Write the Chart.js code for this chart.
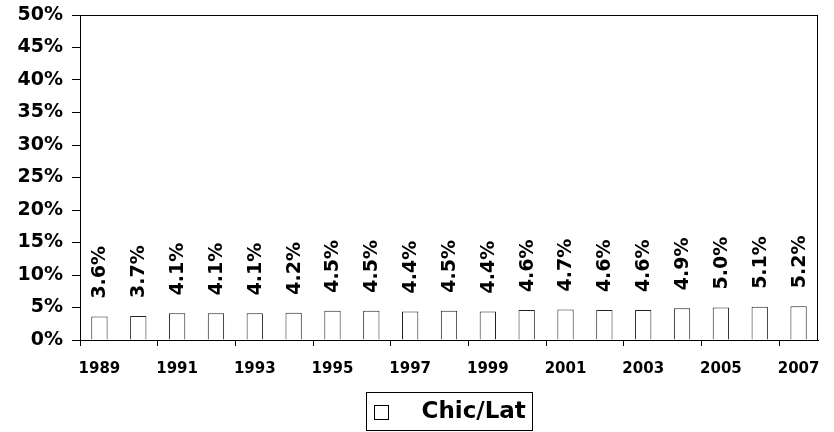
<!DOCTYPE html>
<html>
<head>
<meta charset="utf-8">
<script src="https://cdn.jsdelivr.net/npm/chart.js@4.4.1/dist/chart.umd.min.js"></script>
<style>
    html, body { margin: 0; padding: 0; background: #fff; }
    #chartWrap { width: 834px; height: 432px; }
</style>
</head>
<body>
<div id="chartWrap"><canvas id="shareChart"></canvas></div>
<script>
const years = ['1989', '1990', '1991', '1992', '1993', '1994', '1995', '1996', '1997', '1998',
               '1999', '2000', '2001', '2002', '2003', '2004', '2005', '2006', '2007'];
const shares = [3.6, 3.7, 4.1, 4.1, 4.1, 4.2, 4.5, 4.5, 4.4, 4.5,
                4.4, 4.6, 4.7, 4.6, 4.6, 4.9, 5.0, 5.1, 5.2];
const seriesName = 'Chic/Lat';
const yMax = 50;
const yStep = 5;

const FONT = '"DejaVu Sans", Arial, sans-serif';

// box around the plot area (top and right edges)
const plotFrame = {
    id: 'plotFrame',
    afterDraw(chart) {
        const a = chart.chartArea;
        const ctx = chart.ctx;
        ctx.save();
        ctx.strokeStyle = '#000';
        ctx.lineWidth = 1;
        ctx.strokeRect(Math.round(a.left) + 0.5, Math.round(a.top) + 0.5,
                       Math.round(a.right - a.left) - 1, Math.round(a.bottom - a.top));
        ctx.restore();
    }
};

// vertical value labels above each bar
const barLabels = {
    id: 'barLabels',
    afterDatasetsDraw(chart) {
        const ctx = chart.ctx;
        const meta = chart.getDatasetMeta(0);
        ctx.save();
        ctx.fillStyle = '#000';
        ctx.font = 'bold 19px ' + FONT;
        ctx.textAlign = 'left';
        ctx.textBaseline = 'middle';
        meta.data.forEach((bar, i) => {
            ctx.save();
            ctx.translate(bar.x, bar.y - 18);
            ctx.rotate(-Math.PI / 2);
            ctx.fillText(shares[i].toFixed(1) + '%', 0, 1);
            ctx.restore();
        });
        ctx.restore();
    }
};

// framed legend under the x axis
const boxLegend = {
    id: 'boxLegend',
    afterDraw(chart) {
        const a = chart.chartArea;
        const ctx = chart.ctx;
        const w = 166, h = 38;
        const left = Math.round((a.left + a.right) / 2 - w / 2) + 0.5;
        const top = 392.5;
        ctx.save();
        ctx.strokeStyle = '#000';
        ctx.lineWidth = 1;
        ctx.strokeRect(left, top, w, h);
        ctx.fillStyle = '#fff';
        ctx.fillRect(left + 8, top + 13, 14, 14);
        ctx.strokeRect(left + 8, top + 13, 14, 14);
        ctx.fillStyle = '#000';
        ctx.font = 'bold 23px ' + FONT;
        ctx.textAlign = 'left';
        ctx.textBaseline = 'middle';
        ctx.fillText(seriesName, left + 55, top + 20);
        ctx.restore();
    }
};

const ctx = document.getElementById('shareChart').getContext('2d');
const shareChart = new Chart(ctx, {
    type: 'bar',
    data: {
        labels: years,
        datasets: [{
            label: seriesName,
            data: shares,
            backgroundColor: '#fff',
            borderColor: '#222',
            borderWidth: 1,
            barPercentage: 0.42,
            categoryPercentage: 1.0
        }]
    },
    options: {
        responsive: true,
        maintainAspectRatio: false,
        animation: false,
        layout: {
            padding: { top: 0, right: 16, bottom: 0, left: 0 }
        },
        plugins: {
            legend: { display: false },
            tooltip: { enabled: false }
        },
        scales: {
            x: {
                offset: true,
                border: { color: '#000', width: 1 },
                grid: {
                    offset: true,
                    drawOnChartArea: false,
                    drawTicks: true,
                    tickLength: 6,
                    color: function(context) {
                        return context.index % 2 === 0 ? '#000' : 'rgba(0,0,0,0)';
                    }
                },
                ticks: {
                    autoSkip: false,
                    maxRotation: 0,
                    padding: 14,
                    color: '#000',
                    font: { family: FONT, size: 15, weight: 'bold' },
                    callback: function(value, index) {
                        return index % 2 === 0 ? years[index] : '';
                    }
                },
                afterFit: function(scale) {
                    scale.height = 92;
                }
            },
            y: {
                min: 0,
                max: yMax,
                border: { color: '#000', width: 1 },
                grid: {
                    drawOnChartArea: false,
                    drawTicks: true,
                    tickLength: 8,
                    color: '#000'
                },
                ticks: {
                    stepSize: yStep,
                    padding: 9,
                    color: '#000',
                    font: { family: FONT, size: 19, weight: 'bold' },
                    callback: function(value) {
                        return value + '%';
                    }
                },
                afterFit: function(scale) {
                    scale.width = 80;
                    scale.paddingTop = 15;
                    scale.paddingBottom = 0;
                }
            }
        }
    },
    plugins: [plotFrame, barLabels, boxLegend]
});
</script>
</body>
</html>
